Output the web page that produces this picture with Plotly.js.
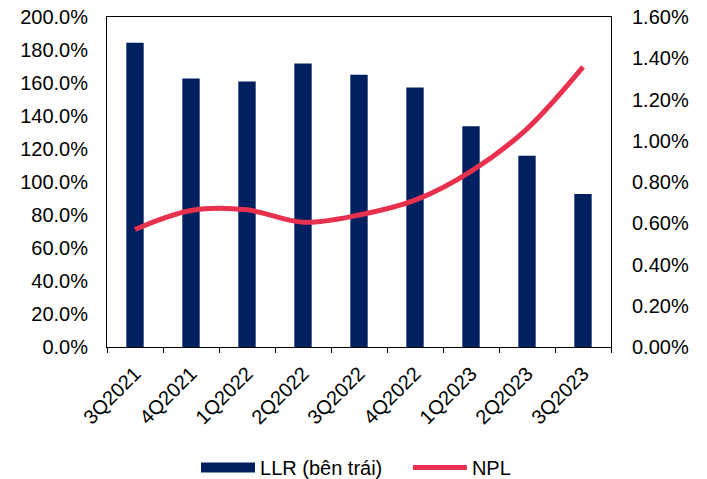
<!DOCTYPE html>
<html>
<head>
<meta charset="utf-8">
<script src="https://cdn.plot.ly/plotly-3.0.1.min.js"></script>
<style>html,body{margin:0;padding:0;background:#fff}#chart{width:707px;height:479px}</style>
</head>
<body>
<div id="chart"></div>
<script>
const categories = ["3Q2021","4Q2021","1Q2022","2Q2022","3Q2022","4Q2022","1Q2023","2Q2023","3Q2023"];
const llr = [184.4, 162.7, 160.9, 171.8, 165.0, 157.3, 133.8, 115.9, 92.8];
const npl = [0.570, 0.662, 0.665, 0.605, 0.640, 0.712, 0.852, 1.058, 1.358];
const seriesNames = ["LLR (bên trái)", "NPL"];

const navy = "#002060";
const red = "#E8314F";
const font = {family: "Liberation Sans, Arial, sans-serif", size: 20, color: "#000"};

const traces = [
  {type: "bar", x: categories, y: llr, name: seriesNames[0], marker: {color: navy}, width: 0.31, showlegend: false, yaxis: "y", hoverinfo: "skip"},
  {type: "scatter", mode: "lines", x: [categories[0]], y: [null], name: seriesNames[0], line: {color: navy, width: 10}, yaxis: "y", showlegend: true, legend: "legend"},
  {type: "scatter", mode: "lines", x: categories, y: npl, name: seriesNames[1], line: {color: red, width: 5, shape: "spline", smoothing: 1}, yaxis: "y2", legend: "legend2"}
];

const legendBase = {orientation: "h", y: -0.365, yanchor: "middle", xanchor: "left", font: font, itemwidth: 54, bgcolor: "rgba(0,0,0,0)"};

const layout = {
  width: 707, height: 479,
  margin: {l: 107, r: 96, t: 17, b: 131.5, autoexpand: false},
  paper_bgcolor: "#fff", plot_bgcolor: "#fff",
  font: font,
  showlegend: true,
  legend: Object.assign({}, legendBase, {x: 0.1766}),
  legend2: Object.assign({}, legendBase, {x: 0.597}),
  xaxis: {type: "category", automargin: false, range: [-0.5, 8.5], tickangle: -45, ticks: "outside", tickson: "boundaries", ticklen: 5, tickcolor: "#000", ticklabelstandoff: 6, showline: true, linecolor: "#000", linewidth: 1, mirror: true, showgrid: false, tickfont: font, zeroline: false},
  yaxis: {automargin: false, range: [0, 200], dtick: 20, tickformat: ".1f", ticksuffix: "%", showgrid: false, zeroline: false, showline: true, linecolor: "#000", linewidth: 1, ticks: "", ticklabelstandoff: 14, tickfont: font},
  yaxis2: {automargin: false, overlaying: "y", side: "right", range: [0, 1.6], dtick: 0.2, tickformat: ".2f", ticksuffix: "%", showgrid: false, zeroline: false, showline: true, linecolor: "#000", linewidth: 1, ticks: "", ticklabelstandoff: 16, tickfont: font}
};

Plotly.newPlot("chart", traces, layout, {displayModeBar: false, staticPlot: true});
</script>
</body>
</html>
